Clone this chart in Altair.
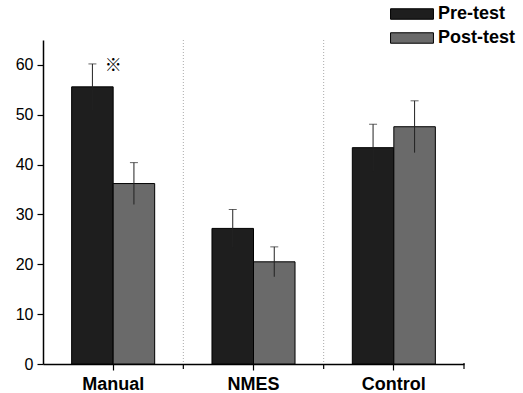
import altair as alt
import pandas as pd

# Group means and standard deviations per test phase
groups = ["Manual", "NMES", "Control"]
phases = ["Pre-test", "Post-test"]
pre_mean = [55.6, 27.2, 43.4]
pre_sd = [4.6, 3.8, 4.7]
post_mean = [36.2, 20.5, 47.6]
post_sd = [4.2, 3.0, 5.2]

# Significance marker
sig_group = ["Manual"]
sig_value = [59.8]

rows = []
for phase, means, sds in (("Pre-test", pre_mean, pre_sd), ("Post-test", post_mean, post_sd)):
    for g, m, s in zip(groups, means, sds):
        rows.append({"group": g, "phase": phase, "mean": m, "lo": m - s, "hi": m + s})
df = pd.DataFrame(rows)
# dotted separators and edge ticks sit on the left edge of every group after the first
sep_df = pd.DataFrame({"group": groups[1:]})
last_df = pd.DataFrame({"group": groups[-1:]})
sig_df = pd.DataFrame({"group": sig_group, "value": sig_value})

FONT = "Liberation Sans"
W, H = 421, 324
HALF_BAND = W / len(groups) / 2

x_axis = alt.Axis(
    title=None, grid=False,
    labelFont=FONT, labelFontWeight="bold", labelFontSize=18,
    labelColor="black", labelAngle=0, labelPadding=5, domainColor="black",
    domainWidth=1.5, tickColor="black", tickSize=6, tickWidth=1.2,
)
x = alt.X("group:N", sort=groups, scale=alt.Scale(paddingInner=0, paddingOuter=0), axis=x_axis)
xo = alt.XOffset("phase:N", sort=phases, scale=alt.Scale(paddingInner=0, paddingOuter=0.69))

y = alt.Y(
    "mean:Q",
    scale=alt.Scale(domain=[0, 65], nice=False),
    axis=alt.Axis(
        title=None, values=list(range(0, 61, 5)),
        labelExpr="datum.value % 10 == 0 ? datum.label : ''",
        grid=False,
        tickSize={"condition": {"test": "datum.value % 10 != 0", "value": 3}, "value": 6},
        tickColor="black", tickWidth=1.2,
        domainColor="black", domainWidth=1.5,
        labelFont=FONT, labelFontSize=16, labelColor="black", labelPadding=4,
    ),
)

color = alt.Color(
    "phase:N", sort=phases,
    scale=alt.Scale(domain=phases, range=["#1e1e1e", "#6a6a6a"]),
    legend=alt.Legend(
        title=None, orient="none", legendX=360, legendY=-35,
        symbolType="M-3.9,-0.95H3.9V0.95H-3.9Z", symbolSize=121,
        symbolStrokeColor="black", symbolStrokeWidth=1, symbolOpacity=1,
        labelFont=FONT, labelFontWeight="bold", labelFontSize=18,
        labelColor="black", labelOffset=17, rowPadding=6,
    ),
)

xg = alt.X("group:N", sort=groups)

bars = alt.Chart(df).mark_bar(stroke="black", strokeWidth=1).encode(
    x=x, xOffset=xo, y=y, color=color
)
separators = alt.Chart(sep_df).mark_rule(
    color="#aaaaaa", strokeWidth=1, strokeDash=[1, 2], xOffset=-HALF_BAND
).encode(x=xg, y=alt.value(0), y2=alt.value(H))
edge_ticks = alt.Chart(sep_df).mark_rule(
    color="black", strokeWidth=1.2, xOffset=-HALF_BAND
).encode(x=xg, y=alt.value(H), y2=alt.value(H + 5))
end_tick = alt.Chart(last_df).mark_rule(
    color="black", strokeWidth=1.2, xOffset=HALF_BAND
).encode(x=xg, y=alt.value(H - 1), y2=alt.value(H + 5))
err = alt.Chart(df).mark_rule(color="#222222", strokeWidth=1).encode(
    x=x, xOffset=xo, y="lo:Q", y2="hi:Q"
)
caps = alt.Chart(df).mark_tick(color="#222222", thickness=1, size=8).encode(
    x=x, xOffset=xo, y="hi:Q"
)
sig = alt.Chart(sig_df).mark_text(
    text="※", font="Noto Sans CJK JP", fontSize=17, fontWeight="bold", color="black"
).encode(x=xg, y="value:Q")

chart = (
    alt.layer(bars, separators, err, caps, edge_ticks, end_tick, sig)
    .properties(
        width=W, height=H,
        autosize=alt.AutoSizeParams(type="none"),
        padding={"left": 43, "top": 40, "right": 59, "bottom": 29},
        background="white",
    )
    .configure_view(stroke=None)
)

chart.save("out.html", embed_options={"renderer": "svg", "actions": False})
